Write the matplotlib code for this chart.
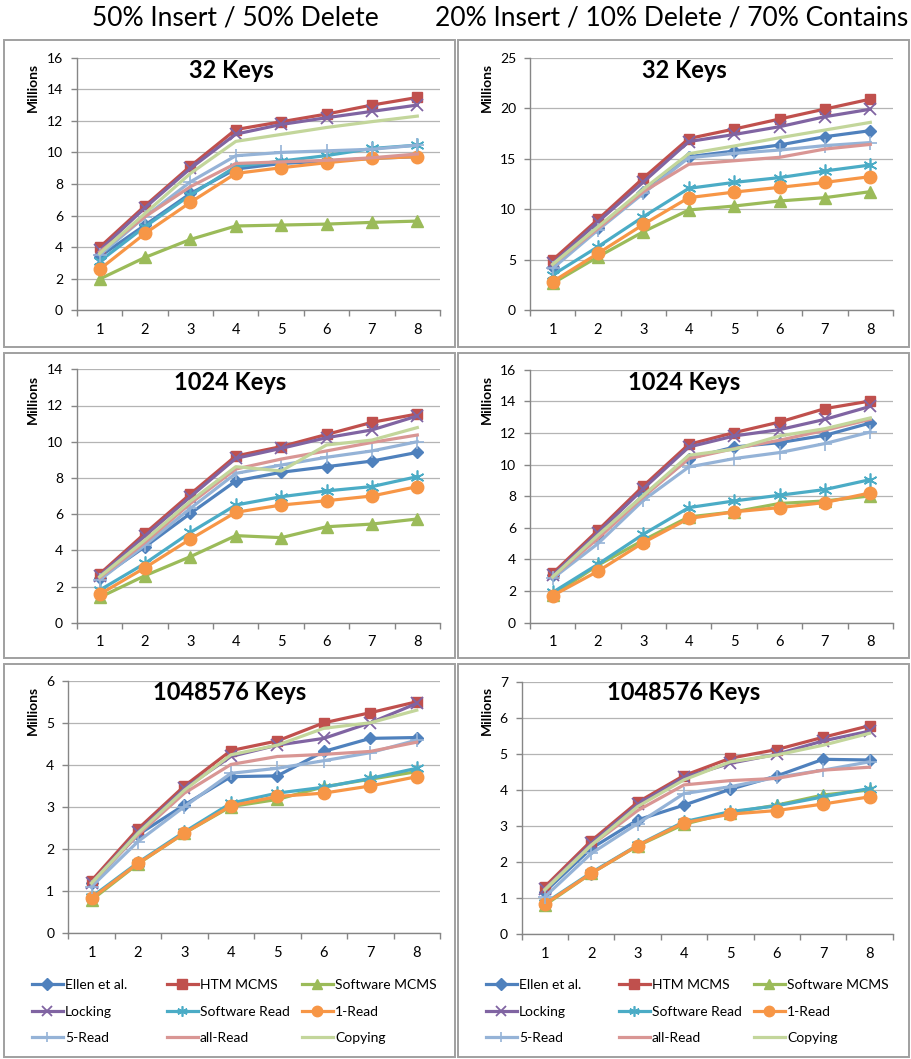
import numpy as np
import matplotlib
matplotlib.use('Agg')
import matplotlib.pyplot as plt
from matplotlib.patches import Rectangle
from matplotlib.lines import Line2D

plt.rcParams['font.family'] = ['Lato', 'DejaVu Sans']

W, H = 912, 1059

threads = [1, 2, 3, 4, 5, 6, 7, 8]
series_names = ["Ellen et al.", "HTM MCMS", "Software MCMS", "Locking",
                "Software Read", "1-Read", "5-Read", "all-Read", "Copying"]
column_titles = ["50% Insert / 50% Delete",
                 "20% Insert / 10% Delete / 70% Contains"]
panel_titles = ["32 Keys", "1024 Keys", "1048576 Keys"]
y_label = "Millions"

# ---- data (millions of ops), order follows series_names ----
keys32_mix5050 = [
    [3.4, 5.4, 7.4, 8.95, 9.3, 9.45, 9.62, 9.73],      # Ellen et al.
    [3.99, 6.62, 9.13, 11.45, 11.94, 12.43, 13.0, 13.48],  # HTM MCMS
    [1.98, 3.35, 4.49, 5.34, 5.4, 5.46, 5.57, 5.65],   # Software MCMS
    [3.8, 6.5, 8.99, 11.16, 11.77, 12.2, 12.6, 13.0],  # Locking
    [3.1, 5.3, 7.3, 9.1, 9.45, 9.8, 10.25, 10.46],     # Software Read
    [2.6, 4.87, 6.84, 8.67, 9.03, 9.35, 9.62, 9.73],   # 1-Read
    [3.5, 5.93, 8.14, 9.79, 10.0, 10.1, 10.2, 10.46],  # 5-Read
    [3.7, 5.93, 7.83, 9.3, 9.4, 9.5, 9.66, 9.9],       # all-Read
    [3.6, 6.14, 8.67, 10.7, 11.14, 11.58, 11.95, 12.3],  # Copying
]
keys32_mix201070 = [
    [4.3, 8.1, 11.74, 15.2, 15.76, 16.36, 17.18, 17.78],
    [4.98, 9.0, 13.1, 17.0, 17.94, 18.93, 19.92, 20.9],
    [2.67, 5.3, 7.78, 9.93, 10.32, 10.82, 11.15, 11.74],
    [4.65, 8.77, 12.7, 16.7, 17.4, 18.17, 19.16, 19.9],
    [3.5, 6.3, 9.27, 12.07, 12.66, 13.13, 13.79, 14.38],
    [2.84, 5.64, 8.5, 11.15, 11.7, 12.17, 12.66, 13.23],
    [4.15, 7.95, 11.58, 15.1, 15.53, 15.86, 16.3, 16.6],
    [4.55, 8.1, 11.74, 14.45, 14.8, 15.14, 15.96, 16.42],
    [4.55, 8.28, 12.0, 15.5, 16.26, 17.08, 17.84, 18.6],
]
keys1024_mix5050 = [
    [2.45, 4.2, 6.04, 7.83, 8.31, 8.62, 8.93, 9.41],
    [2.69, 4.94, 7.11, 9.21, 9.73, 10.4, 11.07, 11.53],
    [1.4, 2.6, 3.65, 4.81, 4.7, 5.3, 5.45, 5.73],
    [2.6, 4.8, 6.96, 9.08, 9.63, 10.22, 10.65, 11.42],
    [1.8, 3.28, 4.99, 6.5, 6.96, 7.28, 7.52, 8.07],
    [1.57, 3.04, 4.62, 6.1, 6.5, 6.74, 7.0, 7.52],
    [2.36, 4.29, 6.32, 8.25, 8.71, 9.14, 9.49, 10.0],
    [2.49, 4.44, 6.59, 8.49, 9.04, 9.49, 9.96, 10.37],
    [2.54, 4.57, 6.72, 8.62, 8.38, 9.82, 10.09, 10.78],
]
keys1024_mix201070 = [
    [3.0, 5.43, 8.06, 10.38, 11.11, 11.39, 11.85, 12.63],
    [3.12, 5.85, 8.65, 11.28, 12.02, 12.69, 13.54, 14.02],
    [1.75, 3.64, 5.22, 6.69, 7.01, 7.54, 7.7, 8.02],
    [3.0, 5.7, 8.48, 11.11, 11.81, 12.21, 12.86, 13.68],
    [1.92, 3.7, 5.6, 7.28, 7.7, 8.06, 8.42, 9.05],
    [1.71, 3.26, 5.07, 6.59, 7.01, 7.28, 7.6, 8.21],
    [2.8, 5.01, 7.75, 9.85, 10.38, 10.76, 11.33, 12.06],
    [2.9, 5.33, 7.96, 10.38, 11.01, 11.54, 12.17, 12.86],
    [2.9, 5.54, 8.06, 10.59, 10.97, 11.81, 12.27, 12.95],
]
keys1m_mix5050 = [
    [1.19, 2.34, 3.05, 3.72, 3.74, 4.32, 4.63, 4.65],
    [1.25, 2.48, 3.5, 4.34, 4.57, 5.0, 5.24, 5.5],
    [0.79, 1.65, 2.38, 3.01, 3.18, 3.48, 3.66, 3.84],
    [1.2, 2.41, 3.44, 4.2, 4.47, 4.63, 5.0, 5.46],
    [0.86, 1.68, 2.41, 3.09, 3.33, 3.47, 3.68, 3.92],
    [0.83, 1.66, 2.38, 3.03, 3.25, 3.33, 3.5, 3.72],
    [1.11, 2.18, 3.01, 3.8, 3.92, 4.1, 4.29, 4.59],
    [1.2, 2.34, 3.33, 4.01, 4.2, 4.25, 4.32, 4.54],
    [1.19, 2.38, 3.4, 4.24, 4.47, 4.87, 5.0, 5.3],
]
keys1m_mix201070 = [
    [1.18, 2.38, 3.17, 3.58, 4.02, 4.39, 4.85, 4.83],
    [1.32, 2.59, 3.66, 4.4, 4.88, 5.12, 5.46, 5.78],
    [0.81, 1.69, 2.45, 3.05, 3.37, 3.58, 3.86, 4.0],
    [1.26, 2.52, 3.6, 4.35, 4.74, 4.99, 5.36, 5.63],
    [0.86, 1.71, 2.47, 3.12, 3.4, 3.56, 3.81, 4.04],
    [0.84, 1.69, 2.46, 3.09, 3.33, 3.43, 3.61, 3.81],
    [1.04, 2.24, 3.07, 3.9, 4.09, 4.35, 4.55, 4.78],
    [1.25, 2.47, 3.43, 4.14, 4.26, 4.32, 4.55, 4.63],
    [1.23, 2.47, 3.54, 4.28, 4.78, 4.97, 5.24, 5.57],
]

panel_data = [[keys32_mix5050, keys32_mix201070],
              [keys1024_mix5050, keys1024_mix201070],
              [keys1m_mix5050, keys1m_mix201070]]
y_max = [[16, 25], [14, 16], [6, 7]]
y_step = [[2, 5], [2, 2], [1, 1]]

# ---- styles ----
colors = ['#4F81BD', '#C0504D', '#9BBB59', '#8064A2', '#4BACC6',
          '#F79646', '#95B3D7', '#D99694', '#C3D69B']
markers = ['D', 's', '^', 'x', (6, 2, 0), 'o', '+', None, None]
msizes = [6.5, 7.5, 8.5, 8, 10, 9, 10, 0, 0]
mews = [1, 1, 1, 1.3, 1.2, 1, 1.2, 1, 1]

# axes pixel boxes: (x0, x1, ytop, ybot)
axes_px = [[(77, 440, 57.7, 310.3), (530, 893, 57.7, 310.3)],
           [(77, 440, 369.3, 622.7), (530, 893, 369.7, 622.7)],
           [(68.3, 440, 680.7, 933.3), (521.7, 892.7, 681.7, 934.3)]]
frames_px = [[(4, 455, 40, 347), (458, 909, 40, 347)],
             [(4, 455, 353, 658), (458, 909, 353, 658)],
             [(4, 455, 664, 1057), (458, 909, 664, 1057)]]
title_px = [[(231, 70), (684, 70)], [(230, 383), (684, 383)],
            [(230, 693), (684, 693)]]
ylab_px = [[(33, 87), (487, 87)], [(33, 399), (487, 399)],
           [(33, 710), (487, 710)]]

fig = plt.figure(figsize=(W / 100, H / 100), dpi=100)

def fx(x):
    return x / W

def fy(y):
    return 1 - y / H

# frames
for r in range(3):
    for c in range(2):
        x0, x1, y0, y1 = frames_px[r][c]
        fig.patches.append(Rectangle((fx(x0), fy(y1)), fx(x1 - x0), (y1 - y0) / H,
                                     transform=fig.transFigure, fill=False,
                                     edgecolor='#a0a0a0', linewidth=1.4))

# column headers
fig.text(fx(235), fy(18), column_titles[0], ha='center', va='center', fontsize=19)
fig.text(fx(672), fy(18), column_titles[1], ha='center', va='center', fontsize=19)

axis_gray = '#868686'
for r in range(3):
    for c in range(2):
        x0, x1, yt, yb = axes_px[r][c]
        ax = fig.add_axes([fx(x0), fy(yb), (x1 - x0) / W, (yb - yt) / H])
        data = panel_data[r][c]
        for i, name in enumerate(series_names):
            ax.plot(threads, data[i], color=colors[i], lw=2.3,
                    marker=markers[i], markersize=msizes[i],
                    markeredgewidth=mews[i], markeredgecolor=colors[i],
                    markerfacecolor=colors[i], label=name, clip_on=False, zorder=3 + i * 0.01)
        ax.set_xlim(0.5, 8.5)
        ax.set_ylim(0, y_max[r][c])
        ax.set_yticks(np.arange(0, y_max[r][c] + 0.001, y_step[r][c]))
        ax.set_xticks(threads)
        ax.set_xticks(np.arange(0.5, 9.0, 1.0), minor=True)
        ax.tick_params(axis='x', which='major', length=0, pad=9, labelsize=10.5)
        ax.tick_params(axis='x', which='minor', length=4, color=axis_gray, width=1)
        ax.tick_params(axis='y', which='major', length=4, color=axis_gray, width=1,
                       pad=6, labelsize=10)
        ax.grid(axis='y', color='#b4b4b4', lw=0.9)
        ax.set_axisbelow(True)
        for s in ['top', 'right']:
            ax.spines[s].set_visible(False)
        for s in ['left', 'bottom']:
            ax.spines[s].set_color(axis_gray)
            ax.spines[s].set_linewidth(1)
        ax.set_facecolor('none')
        tx, ty = title_px[r][c]
        fig.text(fx(tx), fy(ty), panel_titles[r], ha='center', va='center',
                 fontsize=17, fontweight='bold')
        lx, ly = ylab_px[r][c]
        fig.text(fx(lx), fy(ly), y_label, rotation=90, ha='center', va='center',
                 fontsize=10, fontweight='bold')

        if r == 2:
            handles = []
            for i, name in enumerate(series_names):
                handles.append(Line2D([], [], color=colors[i], lw=2.3,
                                      marker=markers[i],
                                      markersize=min(msizes[i], 7.5) if markers[i] else 0,
                                      markeredgewidth=mews[i],
                                      markeredgecolor=colors[i],
                                      markerfacecolor=colors[i]))
            col_x = [32, 167, 302] if c == 0 else [486, 619, 754]
            for k in range(3):
                idx = [k, k + 3, k + 6]
                fig.legend([handles[j] for j in idx],
                           [series_names[j] for j in idx],
                           loc='center left',
                           bbox_to_anchor=(fx(col_x[k]), fy(1011.5)),
                           frameon=False, fontsize=10, borderpad=0,
                           borderaxespad=0, handlelength=2.23,
                           handletextpad=0.14, labelspacing=1.05)

fig.savefig('out.png', dpi=100, facecolor='white')
